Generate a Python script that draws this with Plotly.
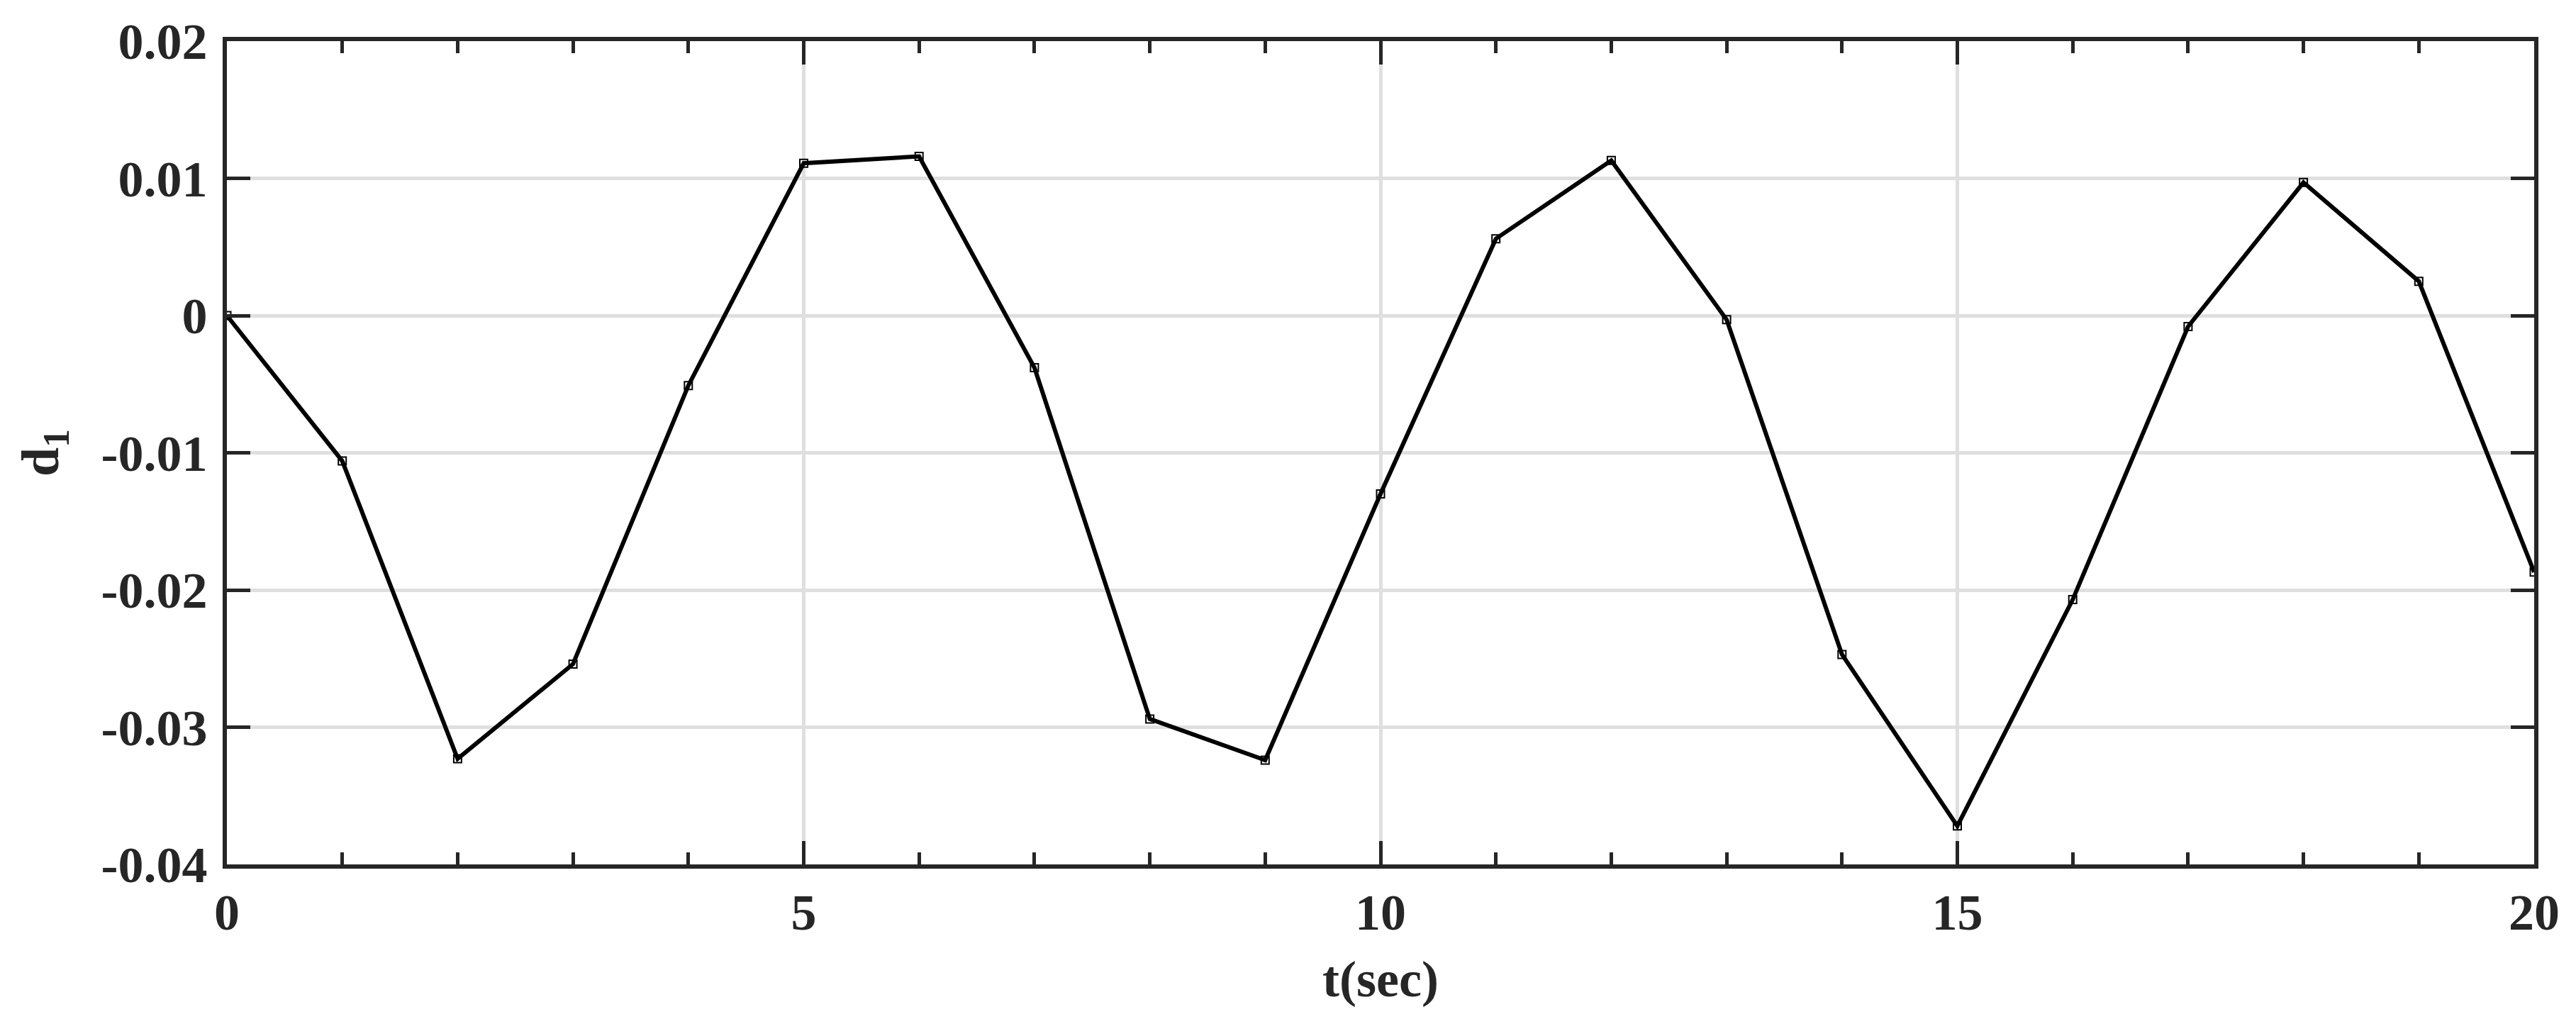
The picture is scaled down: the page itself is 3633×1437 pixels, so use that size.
import plotly.graph_objects as go

t_sec = list(range(0, 21))
d1 = [0.0, -0.0106, -0.0323, -0.0254, -0.0051, 0.0111, 0.0116, -0.0038, -0.0294, -0.0324,
      -0.0130, 0.0056, 0.0113, -0.0003, -0.0247, -0.0372, -0.0207, -0.0008, 0.0097, 0.0025, -0.0187]

x_tickvals = [0, 5, 10, 15, 20]
x_ticktext = ["0", "5", "10", "15", "20"]
y_tickvals = [0.02, 0.01, 0.0, -0.01, -0.02, -0.03, -0.04]
y_ticktext = ["0.02", "0.01", "0", "-0.01", "-0.02", "-0.03", "-0.04"]

FONT = "Liberation Serif, Times New Roman, serif"
AX = "#262626"
GRID = "#dfdfdf"

fig = go.Figure()
fig.add_trace(go.Scatter(
    x=t_sec, y=d1, mode="lines+markers",
    line=dict(color="black", width=6),
    marker=dict(symbol="square-open", size=11, color="black", line=dict(width=2, color="black")),
    showlegend=False,
))

fig.update_layout(
    width=3633, height=1437,
    margin=dict(l=312, r=67, t=50, b=226),
    paper_bgcolor="white", plot_bgcolor="white",
    font=dict(family=FONT, size=72, color=AX, weight="bold"),
)

fig.update_xaxes(
    range=[0, 20], tickmode="array", tickvals=x_tickvals, ticktext=x_ticktext,
    showline=True, linewidth=6, linecolor=AX, mirror="ticks",
    ticks="inside", ticklen=33, tickwidth=5, tickcolor=AX,
    showgrid=True, gridcolor=GRID, gridwidth=5,
    minor=dict(dtick=1, tick0=0, ticks="inside", ticklen=17, tickwidth=5, tickcolor=AX, showgrid=False),
    zeroline=False, ticklabelstandoff=0,
    tickfont=dict(family=FONT, size=72, color=AX, weight="bold"),
    title=dict(text="t(sec)", font=dict(family=FONT, size=72, color=AX, weight="bold"), standoff=30),
)
fig.update_yaxes(
    range=[-0.04, 0.02], tickmode="array", tickvals=y_tickvals, ticktext=y_ticktext,
    showline=True, linewidth=6, linecolor=AX, mirror="ticks",
    ticks="inside", ticklen=33, tickwidth=5, tickcolor=AX,
    showgrid=True, gridcolor=GRID, gridwidth=5,
    zeroline=False, ticklabelstandoff=7,
    tickfont=dict(family=FONT, size=72, color=AX, weight="bold"),
    title=dict(text="d<sub>1</sub>", font=dict(family=FONT, size=74, color=AX, weight="bold"), standoff=38),
)

fig.write_html("out.html")
